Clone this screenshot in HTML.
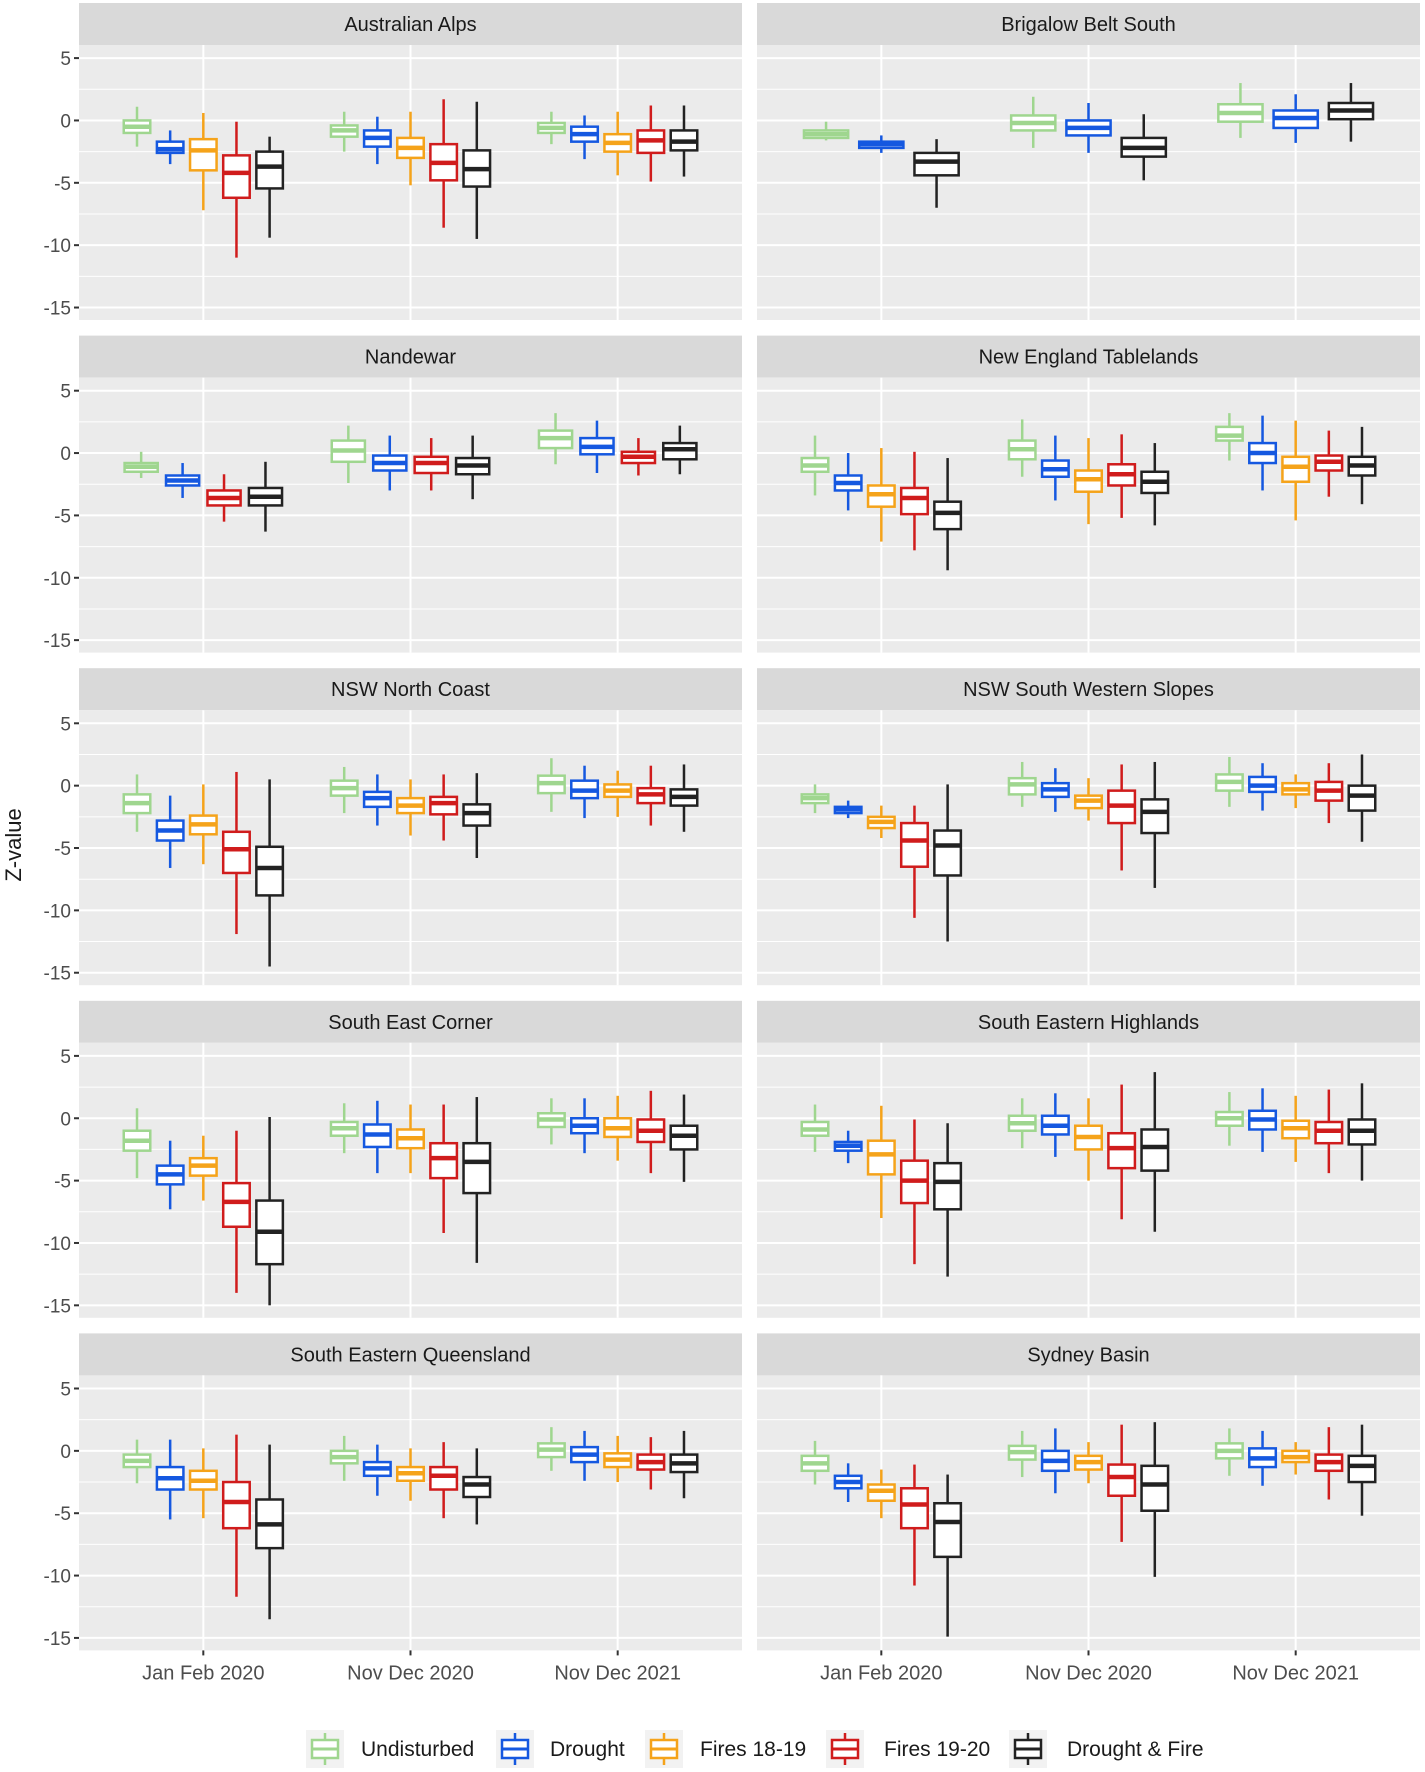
<!DOCTYPE html>
<html><head><meta charset="utf-8"><style>
html,body{margin:0;padding:0;background:#fff}
svg{display:block;font-family:"Liberation Sans",sans-serif}
</style></head><body>
<svg id="chart" width="1425" height="1772" viewBox="0 0 1425 1772"></svg>
<script>
const regions = ["Australian Alps","Brigalow Belt South","Nandewar","New England Tablelands","NSW North Coast","NSW South Western Slopes","South East Corner","South Eastern Highlands","South Eastern Queensland","Sydney Basin"];
const categories = ["Jan Feb 2020","Nov Dec 2020","Nov Dec 2021"];
const groupNames = ["Undisturbed","Drought","Fires 18-19","Fires 19-20","Drought & Fire"];
const groupColors = ["#9fd68f","#1558e0","#f5a31a","#d01c1c","#222222"];
const yTicks = [5,0,-5,-10,-15];
const regionGroups = [
 [0,1,2,3,4],[0,1,4],[0,1,3,4],[0,1,2,3,4],[0,1,2,3,4],
 [0,1,2,3,4],[0,1,2,3,4],[0,1,2,3,4],[0,1,2,3,4],[0,1,2,3,4]];
const statsAlps = [
 [[-2.1,-1.0,-0.5,0,1.1],[-3.5,-2.6,-2.3,-1.7,-0.8],[-7.2,-4.0,-2.4,-1.5,0.6],[-11,-6.2,-4.2,-2.8,-0.1],[-9.4,-5.45,-3.7,-2.5,-1.3]],
 [[-2.5,-1.3,-0.8,-0.4,0.7],[-3.5,-2.1,-1.4,-0.8,0.3],[-5.2,-3.0,-2.2,-1.4,0.7],[-8.6,-4.8,-3.4,-1.9,1.7],[-9.5,-5.3,-3.9,-2.4,1.5]],
 [[-1.9,-1.0,-0.6,-0.2,0.7],[-3.1,-1.7,-1.1,-0.5,0.4],[-4.4,-2.5,-1.8,-1.1,0.7],[-4.9,-2.6,-1.6,-0.8,1.2],[-4.5,-2.4,-1.7,-0.8,1.2]]];
const statsBrigalow = [
 [[-1.6,-1.4,-1.1,-0.8,-0.1],[-2.6,-2.2,-1.9,-1.7,-1.2],[-7.0,-4.4,-3.3,-2.6,-1.5]],
 [[-2.2,-0.8,-0.2,0.4,1.9],[-2.6,-1.2,-0.6,0.0,1.4],[-4.8,-2.9,-2.2,-1.4,0.5]],
 [[-1.4,-0.1,0.6,1.3,3.0],[-1.8,-0.6,0.2,0.8,2.1],[-1.7,0.1,0.8,1.4,3.0]]];
const statsNandewar = [
 [[-2.0,-1.5,-1.1,-0.8,0.1],[-3.6,-2.6,-2.2,-1.8,-0.8],[-5.5,-4.2,-3.6,-3.0,-1.7],[-6.3,-4.2,-3.5,-2.8,-0.7]],
 [[-2.4,-0.7,0.2,1.0,2.2],[-3.0,-1.4,-0.8,-0.2,1.4],[-3.0,-1.6,-0.8,-0.3,1.2],[-3.7,-1.7,-1.0,-0.4,1.4]],
 [[-0.9,0.4,1.2,1.8,3.2],[-1.6,-0.1,0.5,1.2,2.6],[-1.8,-0.8,-0.3,0.1,1.2],[-1.7,-0.5,0.3,0.8,2.2]]];
const statsNewEngland = [
 [[-3.4,-1.5,-1.0,-0.4,1.4],[-4.6,-3.0,-2.4,-1.8,0.0],[-7.1,-4.3,-3.3,-2.6,0.4],[-7.8,-4.9,-3.6,-2.8,0.1],[-9.4,-6.1,-4.8,-3.9,-0.4]],
 [[-1.9,-0.5,0.3,1.0,2.7],[-3.8,-1.9,-1.3,-0.6,1.4],[-5.7,-3.1,-2.1,-1.4,1.2],[-5.2,-2.6,-1.7,-0.9,1.5],[-5.8,-3.2,-2.3,-1.5,0.8]],
 [[-0.6,1.0,1.4,2.1,3.2],[-3.0,-0.8,0.0,0.8,3.0],[-5.4,-2.3,-1.1,-0.3,2.6],[-3.5,-1.4,-0.7,-0.2,1.8],[-4.1,-1.8,-1.0,-0.3,2.1]]];
const statsNorthCoast = [
 [[-3.7,-2.2,-1.4,-0.7,0.9],[-6.6,-4.4,-3.6,-2.8,-0.8],[-6.3,-3.9,-3.1,-2.4,0.1],[-11.9,-7.0,-5.1,-3.7,1.1],[-14.5,-8.8,-6.6,-4.9,0.5]],
 [[-2.2,-0.8,-0.2,0.4,1.5],[-3.2,-1.7,-1.0,-0.5,0.9],[-4.0,-2.2,-1.6,-1.0,0.5],[-4.4,-2.3,-1.4,-0.9,0.9],[-5.8,-3.2,-2.2,-1.5,1.0]],
 [[-2.1,-0.6,0.2,0.8,2.2],[-2.6,-1.0,-0.4,0.4,1.6],[-2.5,-0.9,-0.4,0.1,1.2],[-3.2,-1.4,-0.7,-0.2,1.6],[-3.7,-1.6,-0.9,-0.3,1.7]]];
const statsSWSlopes = [
 [[-2.2,-1.4,-1.0,-0.7,0.1],[-2.6,-2.2,-1.9,-1.7,-1.2],[-4.2,-3.4,-2.9,-2.5,-1.6],[-10.6,-6.5,-4.4,-3.0,-1.6],[-12.5,-7.2,-4.8,-3.6,0.1]],
 [[-1.7,-0.7,0.1,0.6,1.9],[-2.1,-0.9,-0.3,0.2,1.4],[-2.8,-1.8,-1.2,-0.8,0.6],[-6.8,-3.0,-1.6,-0.4,1.7],[-8.2,-3.8,-2.1,-1.1,1.9]],
 [[-1.7,-0.4,0.3,0.9,2.3],[-2.0,-0.5,0.0,0.7,1.8],[-1.8,-0.7,-0.3,0.2,0.9],[-3.0,-1.2,-0.4,0.3,1.8],[-4.5,-2.0,-0.8,0.0,2.5]]];
const statsSECorner = [
 [[-4.8,-2.6,-1.8,-1.0,0.8],[-7.3,-5.3,-4.5,-3.8,-1.8],[-6.6,-4.6,-3.8,-3.2,-1.4],[-14.0,-8.7,-6.7,-5.2,-1.0],[-15.0,-11.7,-9.1,-6.6,0.1]],
 [[-2.8,-1.4,-0.8,-0.3,1.2],[-4.4,-2.3,-1.3,-0.5,1.4],[-4.4,-2.4,-1.6,-0.9,1.1],[-9.2,-4.8,-3.2,-2.0,1.1],[-11.6,-6.0,-3.5,-2.0,1.7]],
 [[-2.1,-0.7,-0.1,0.4,1.6],[-2.8,-1.2,-0.6,0.0,1.6],[-3.4,-1.5,-0.8,0.0,1.8],[-4.4,-1.9,-1.0,-0.1,2.2],[-5.1,-2.5,-1.4,-0.6,1.9]]];
const statsSEHighlands = [
 [[-2.7,-1.4,-0.9,-0.3,1.1],[-3.6,-2.6,-2.2,-1.9,-1.0],[-8.0,-4.5,-2.9,-1.8,1.0],[-11.7,-6.8,-5.0,-3.4,-0.1],[-12.7,-7.3,-5.1,-3.6,-0.4]],
 [[-2.4,-1.0,-0.4,0.2,1.6],[-3.1,-1.3,-0.6,0.2,2.0],[-5.0,-2.5,-1.5,-0.6,1.6],[-8.1,-4.0,-2.4,-1.2,2.7],[-9.1,-4.2,-2.3,-0.9,3.7]],
 [[-2.2,-0.6,0.0,0.5,2.1],[-2.7,-0.9,-0.1,0.6,2.4],[-3.5,-1.6,-0.8,-0.2,1.8],[-4.4,-2.0,-1.0,-0.3,2.3],[-5.0,-2.1,-1.0,-0.1,2.8]]];
const statsSEQueensland = [
 [[-2.6,-1.3,-0.8,-0.3,0.9],[-5.5,-3.1,-2.2,-1.3,0.9],[-5.4,-3.1,-2.4,-1.6,0.2],[-11.7,-6.2,-4.1,-2.5,1.3],[-13.5,-7.8,-5.9,-3.9,0.5]],
 [[-2.4,-1.0,-0.5,0.0,1.2],[-3.6,-2.0,-1.4,-0.9,0.5],[-4.0,-2.4,-1.8,-1.3,0.2],[-5.4,-3.1,-2.0,-1.3,0.7],[-5.9,-3.7,-2.7,-2.1,0.2]],
 [[-1.6,-0.5,0.1,0.6,1.9],[-2.4,-0.9,-0.3,0.3,1.6],[-2.5,-1.3,-0.7,-0.2,1.2],[-3.1,-1.5,-0.9,-0.3,1.1],[-3.8,-1.7,-1.0,-0.3,1.6]]];
const statsSydney = [
 [[-2.7,-1.6,-1.0,-0.4,0.8],[-4.1,-3.0,-2.5,-2.0,-1.0],[-5.4,-4.0,-3.2,-2.7,-1.5],[-10.8,-6.2,-4.3,-3.0,-1.1],[-14.9,-8.5,-5.7,-4.2,-1.9]],
 [[-2.1,-0.7,-0.1,0.4,1.6],[-3.4,-1.6,-0.8,0.0,1.8],[-2.6,-1.5,-0.9,-0.4,0.7],[-7.3,-3.6,-2.1,-1.1,2.1],[-10.1,-4.8,-2.7,-1.2,2.3]],
 [[-2.0,-0.6,0.0,0.6,1.8],[-2.8,-1.3,-0.6,0.2,1.6],[-1.9,-0.9,-0.5,0.0,0.7],[-3.9,-1.6,-0.9,-0.3,1.9],[-5.2,-2.5,-1.2,-0.4,2.1]]];
const allStats = [statsAlps,statsBrigalow,statsNandewar,statsNewEngland,statsNorthCoast,statsSWSlopes,statsSECorner,statsSEHighlands,statsSEQueensland,statsSydney];

const NS='http://www.w3.org/2000/svg';
const svg=document.getElementById('chart');
function mk(tag,attrs,parent){const e=document.createElementNS(NS,tag);for(const k in attrs)e.setAttribute(k,attrs[k]);(parent||svg).appendChild(e);return e;}

const panelLefts=[79,757], panelW=663, stripH=42, plotH=275, pitch=332.6, top0=3;
const yMax=6.05, yMin=-16.0;
function yScale(top,v){return top+stripH+(yMax-v)/(yMax-yMin)*plotH;}
const unit=panelW/3.2;
function xCat(left,i){return left+(i+0.6)*unit;}

regions.forEach((name,r)=>{
  const col=r%2,row=Math.floor(r/2);
  const left=panelLefts[col], top=top0+row*pitch;
  const g=mk('g',{});
  
  
  const strip=mk('rect',{x:left,y:top,width:panelW,height:stripH,fill:'#d9d9d9'},g);
  
  
  const st=mk('text',{x:left+panelW/2,y:top+28,'text-anchor':'middle','font-size':20,fill:'#1a1a1a'},g);
  st.textContent=name;
  
  
  const bg=mk('rect',{x:left,y:top+stripH,width:panelW,height:plotH,fill:'#ebebeb'},g);
  
  
  for(let v=5;v>=-15;v-=2.5){
    const yy=yScale(top,v);
    mk('line',{x1:left,x2:left+panelW,y1:yy,y2:yy,stroke:'#fff','stroke-width':(v%5===0)?2:1},g);
  }
  categories.forEach((c,i)=>{const xx=xCat(left,i);mk('line',{x1:xx,x2:xx,y1:top+stripH,y2:top+stripH+plotH,stroke:'#fff','stroke-width':2},g);});
  if(col===0){
    yTicks.forEach(v=>{
      const yy=yScale(top,v);
      mk('line',{x1:left-5,x2:left,y1:yy,y2:yy,stroke:'#333','stroke-width':2},g);
      const t=mk('text',{x:left-8,y:yy+7,'text-anchor':'end','font-size':19,fill:'#4d4d4d'},g);
      t.textContent=v;
      
      
    });
  }
  if(row===4){
    categories.forEach((c,i)=>{
      const xx=xCat(left,i), yb=top+stripH+plotH;
      mk('line',{x1:xx,x2:xx,y1:yb,y2:yb+5,stroke:'#333','stroke-width':2},g);
      const t=mk('text',{x:xx,y:yb+29,'text-anchor':'middle','font-size':20,fill:'#4d4d4d'},g);
      t.textContent=c;
      
      
    });
  }
  const groups=regionGroups[r], n=groups.length, slot=0.8*unit/n, bw=slot*0.8;
  allStats[r].forEach((catStats,i)=>{
    catStats.forEach((s,k)=>{
      const gi=groups[k], color=groupColors[gi];
      const cx=xCat(left,i)-0.4*unit+slot*(k+0.5);
      const bx=mk('g',{},g);
      
      
      mk('line',{x1:cx,x2:cx,y1:yScale(top,s[0]),y2:yScale(top,s[1]),stroke:color,'stroke-width':2.5},bx);
      mk('line',{x1:cx,x2:cx,y1:yScale(top,s[3]),y2:yScale(top,s[4]),stroke:color,'stroke-width':2.5},bx);
      mk('rect',{x:cx-bw/2,y:yScale(top,s[3]),width:bw,height:Math.max(1,yScale(top,s[1])-yScale(top,s[3])),fill:'#fff',stroke:color,'stroke-width':2.5},bx);
      const my=yScale(top,s[2]);
      mk('line',{x1:cx-bw/2,x2:cx+bw/2,y1:my,y2:my,stroke:color,'stroke-width':4.5},bx);
    });
  });
});

const yt=mk('text',{x:0,y:0,transform:'translate(21,845) rotate(-90)','text-anchor':'middle','font-size':22,fill:'#1a1a1a'});
yt.textContent='Z-value';



const legendKeyX=[306,496,645,826,1009];
const legendTextX=[361,550,700,884,1067];
groupNames.forEach((nm,i)=>{
  const lg=mk('g',{});
  
  
  const kx=legendKeyX[i], ky=1730;
  mk('rect',{x:kx,y:ky,width:38,height:38,fill:'#f2f2f2'},lg);
  const cx=kx+19;
  mk('line',{x1:cx,x2:cx,y1:ky+3,y2:ky+35,stroke:groupColors[i],'stroke-width':2.5},lg);
  mk('rect',{x:kx+6,y:ky+10,width:26,height:18,fill:'#fff',stroke:groupColors[i],'stroke-width':2.5},lg);
  mk('line',{x1:kx+6,x2:kx+32,y1:ky+19,y2:ky+19,stroke:groupColors[i],'stroke-width':3},lg);
  const t=mk('text',{x:legendTextX[i],y:1756,'font-size':21,fill:'#1a1a1a'},lg);
  t.textContent=nm;
});
</script>
</body></html>
